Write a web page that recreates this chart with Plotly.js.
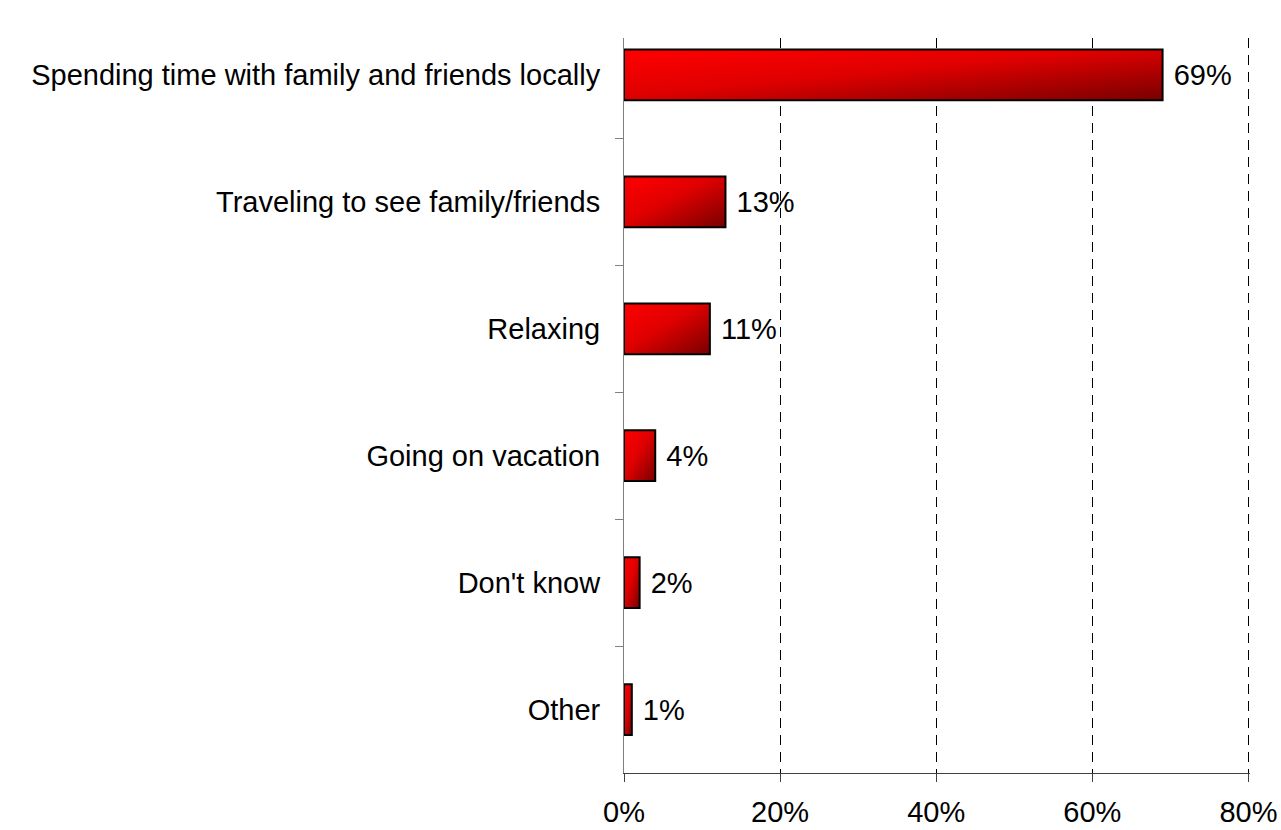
<!DOCTYPE html>
<html>
<head>
<meta charset="utf-8">
<script src="https://cdn.plot.ly/plotly-3.0.1.min.js"></script>
<style>
html,body{margin:0;padding:0;background:#fff;}
#chart{width:1281px;height:830px;}
</style>
</head>
<body>
<div id="chart"></div>
<script>
var categories = [
  "Spending time with family and friends locally",
  "Traveling to see family/friends",
  "Relaxing",
  "Going on vacation",
  "Don't know",
  "Other"
];
var values = [69, 13, 11, 4, 2, 1];
var xTickValues = [0, 20, 40, 60, 80];
var xTickLabels = ["0%", "20%", "40%", "60%", "80%"];

var fontFamily = '"Liberation Sans", Arial, sans-serif';

var trace = {
  type: 'bar',
  orientation: 'h',
  x: values,
  y: categories,
  width: 0.4,
  marker: {color: '#e00000', line: {color: '#000000', width: 2}},
  texttemplate: '\u00a0%{x}%',
  textposition: 'outside',
  constraintext: 'none',
  cliponaxis: false,
  textfont: {family: fontFamily, size: 29, color: '#000000'},
  hoverinfo: 'none'
};

var layout = {
  width: 1281,
  height: 830,
  margin: {l: 624, r: 31, t: 38, b: 57},
  paper_bgcolor: '#ffffff',
  plot_bgcolor: '#ffffff',
  showlegend: false,
  font: {family: fontFamily, size: 29, color: '#000000'},
  xaxis: {
    range: [0, 80.2],
    tickvals: xTickValues,
    ticktext: xTickLabels,
    ticks: 'outside',
    ticklen: 8,
    tickcolor: '#404040',
    tickwidth: 1,
    showline: true,
    linecolor: '#404040',
    linewidth: 1,
    showgrid: true,
    gridcolor: '#000000',
    gridwidth: 1,
    griddash: '10px,7px',
    zeroline: false,
    ticklabelstandoff: 5,
    tickfont: {family: fontFamily, size: 29, color: '#000000'},
    fixedrange: true
  },
  yaxis: {
    type: 'category',
    range: [5.5, -0.291],
    tickson: 'boundaries',
    ticks: 'outside',
    ticklen: 8,
    tickcolor: '#808080',
    tickwidth: 1,
    showline: true,
    linecolor: '#808080',
    linewidth: 1,
    showgrid: false,
    zeroline: false,
    ticklabelstandoff: 17,
    tickfont: {family: fontFamily, size: 29, color: '#000000'},
    fixedrange: true
  }
};

Plotly.newPlot('chart', [trace], layout, {displayModeBar: false, staticPlot: true}).then(function () {
  var svgNS = 'http://www.w3.org/2000/svg';
  var svg = document.querySelector('#chart .main-svg');
  var defs = svg.querySelector('defs');
  if (!defs) { defs = document.createElementNS(svgNS, 'defs'); svg.insertBefore(defs, svg.firstChild); }
  var grad = document.createElementNS(svgNS, 'linearGradient');
  grad.setAttribute('id', 'barRedGrad');
  grad.setAttribute('x1', '0'); grad.setAttribute('y1', '0');
  grad.setAttribute('x2', '1'); grad.setAttribute('y2', '1');
  var stops = [['0', '#ff0000'], ['0.45', '#e00000'], ['1', '#780000']];
  stops.forEach(function (s) {
    var st = document.createElementNS(svgNS, 'stop');
    st.setAttribute('offset', s[0]);
    st.setAttribute('stop-color', s[1]);
    grad.appendChild(st);
  });
  defs.appendChild(grad);
  document.querySelectorAll('#chart .bars .point path').forEach(function (p) {
    p.style.fill = 'url(#barRedGrad)';
    p.style.fillOpacity = '1';
  });
});
</script>
</body>
</html>
